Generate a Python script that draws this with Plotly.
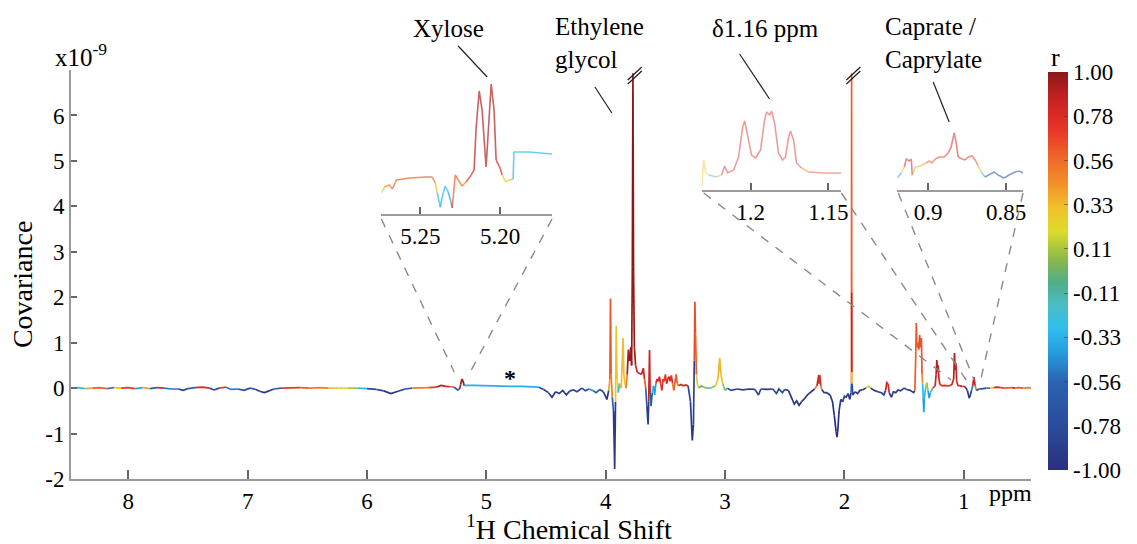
import plotly.graph_objects as go
from plotly.colors import sample_colorscale

FONT = "'Liberation Serif', 'Times New Roman', Times, 'DejaVu Serif', serif"

# ---------------- data: main STOCSY-type covariance trace (x10^-9) ----------------
main_ppm = [
    8.48, 8.42, 8.36, 8.30, 8.24, 8.18, 8.12, 8.06, 8.00, 7.94,
    7.88, 7.82, 7.76, 7.70, 7.64, 7.58, 7.54, 7.50, 7.44, 7.38,
    7.32, 7.28, 7.24, 7.18, 7.14, 7.08, 7.03, 6.98, 6.93, 6.90,
    6.86, 6.82, 6.78, 6.72, 6.64, 6.56, 6.48, 6.40, 6.32, 6.24,
    6.16, 6.08, 6.00, 5.92, 5.86, 5.80, 5.74, 5.68, 5.62, 5.55,
    5.48, 5.42, 5.38, 5.34, 5.30, 5.27, 5.24, 5.225, 5.215, 5.205,
    5.195, 5.185, 5.175, 5.10, 5.00, 4.90, 4.80, 4.70, 4.60, 4.56,
    4.52, 4.48, 4.45, 4.42, 4.39, 4.36, 4.33, 4.30, 4.27, 4.24,
    4.20, 4.17, 4.14, 4.11, 4.08, 4.05, 4.02, 3.99, 3.975, 3.965,
    3.960, 3.955, 3.945, 3.935, 3.925, 3.918, 3.912, 3.905, 3.895, 3.885,
    3.870, 3.855, 3.848, 3.838, 3.830, 3.820, 3.810, 3.800, 3.790, 3.783,
    3.777, 3.772, 3.767, 3.760, 3.750, 3.735, 3.720, 3.700, 3.685, 3.675,
    3.665, 3.655, 3.645, 3.640, 3.633, 3.628, 3.620, 3.610, 3.600, 3.590,
    3.580, 3.570, 3.560, 3.550, 3.540, 3.530, 3.520, 3.510, 3.500, 3.490,
    3.480, 3.470, 3.460, 3.450, 3.440, 3.430, 3.420, 3.410, 3.400, 3.390,
    3.370, 3.350, 3.330, 3.310, 3.290, 3.275, 3.265, 3.258, 3.253, 3.248,
    3.240, 3.230, 3.220, 3.200, 3.180, 3.150, 3.120, 3.080, 3.060, 3.045,
    3.035, 3.020, 3.000, 2.980, 2.950, 2.900, 2.850, 2.800, 2.750, 2.720,
    2.700, 2.650, 2.600, 2.570, 2.550, 2.520, 2.500, 2.470, 2.440, 2.420,
    2.400, 2.380, 2.360, 2.340, 2.310, 2.280, 2.250, 2.230, 2.215, 2.210,
    2.205, 2.198, 2.190, 2.170, 2.150, 2.120, 2.100, 2.085, 2.070, 2.062,
    2.055, 2.045, 2.030, 2.015, 2.000, 1.985, 1.970, 1.955, 1.945, 1.941,
    1.940, 1.939, 1.938, 1.937, 1.930, 1.910, 1.890, 1.870, 1.850, 1.820,
    1.800, 1.780, 1.750, 1.720, 1.690, 1.670, 1.655, 1.645, 1.635, 1.625,
    1.607, 1.590, 1.570, 1.550, 1.530, 1.500, 1.480, 1.450, 1.420, 1.410,
    1.402, 1.398, 1.393, 1.385, 1.378, 1.370, 1.362, 1.355, 1.350, 1.345,
    1.340, 1.335, 1.330, 1.320, 1.310, 1.300, 1.290, 1.280, 1.260, 1.240,
    1.232, 1.226, 1.220, 1.215, 1.208, 1.200, 1.180, 1.160, 1.140, 1.120,
    1.100, 1.085, 1.078, 1.072, 1.066, 1.060, 1.050, 1.030, 1.010, 0.990,
    0.970, 0.955, 0.945, 0.935, 0.925, 0.915, 0.905, 0.895, 0.870, 0.840,
    0.810, 0.780, 0.750, 0.720, 0.690, 0.660, 0.630, 0.600, 0.570, 0.540,
    0.500, 0.460, 0.420,
]
main_cov = [
    0.00, 0.01, -0.01, 0.00, 0.01, -0.01, 0.01, 0.00, 0.01, -0.01,
    0.01, -0.01, 0.01, 0.00, -0.02, -0.02, -0.05, -0.01, 0.01, 0.02,
    0.00, -0.04, 0.00, 0.02, -0.03, -0.02, -0.05, 0.00, -0.03, -0.07,
    -0.10, -0.06, -0.02, 0.00, 0.01, 0.01, 0.00, 0.01, 0.00, 0.00,
    0.00, 0.00, -0.01, -0.03, -0.06, -0.12, -0.07, -0.02, 0.00, 0.01,
    0.01, 0.02, 0.06, 0.04, 0.03, 0.02, -0.04, -0.02, 0.08, 0.20,
    0.15, 0.05, 0.06, 0.06, 0.05, 0.05, 0.04, 0.04, 0.03, 0.02,
    -0.03, -0.10, -0.20, -0.08, -0.12, -0.05, -0.15, -0.06, -0.04, -0.08,
    0.00, -0.06, -0.02, -0.05, -0.10, -0.03, -0.08, -0.25, -0.05, 0.20,
    1.97, 0.30, -0.20, -0.50, -1.78, -0.30, 1.37, 0.20, -0.10, 0.10,
    0.00, 1.10, 0.30, 0.10, 0.00, 0.30, 0.85, 0.60, 0.90, 0.50,
    2.67, 6.93, 2.60, 0.90, 0.50, 0.35, 0.33, 0.30, 0.44, 0.20,
    0.00, -0.40, -0.80, -0.30, 0.84, -0.10, -0.40, -0.10, 0.05, -0.15,
    0.10, 0.20, 0.15, 0.25, 0.10, -0.05, 0.20, 0.15, 0.30, 0.10,
    0.20, 0.25, 0.15, 0.28, 0.10, -0.05, 0.10, 0.30, 0.10, 0.05,
    0.08, 0.05, 0.07, 0.05, -0.30, -1.15, -0.80, 0.60, 1.90, 1.20,
    0.30, 0.05, 0.00, 0.05, 0.02, 0.00, 0.00, 0.05, 0.20, 0.66,
    0.30, 0.10, -0.05, 0.00, -0.05, -0.02, -0.04, -0.02, -0.03, -0.15,
    -0.02, -0.03, -0.02, -0.12, -0.02, -0.10, -0.03, -0.05, -0.25, -0.35,
    -0.28, -0.38, -0.30, -0.25, -0.15, -0.08, -0.02, 0.05, 0.29, 0.10,
    0.28, 0.05, -0.03, -0.10, -0.10, -0.15, -0.30, -0.60, -0.95, -1.08,
    -0.90, -0.50, -0.25, -0.30, -0.18, -0.20, -0.12, -0.25, -0.10, 0.10,
    6.93, 2.10, 0.35, 0.10, -0.15, -0.08, -0.12, -0.05, -0.04, 0.00,
    0.04, 0.00, -0.05, -0.08, -0.10, -0.15, -0.05, 0.12, 0.10, -0.10,
    -0.20, -0.08, -0.10, -0.04, -0.06, 0.00, -0.03, -0.05, -0.10, -0.05,
    0.80, 1.43, 0.90, 1.00, 0.85, 1.17, 0.90, 1.10, 0.30, 0.10,
    -0.20, -0.53, -0.20, 0.00, 0.12, -0.05, -0.22, -0.10, 0.00, 0.05,
    0.30, 0.62, 0.35, 0.50, 0.20, 0.08, 0.05, 0.06, 0.05, 0.05,
    0.08, 0.20, 0.77, 0.40, 0.55, 0.15, 0.06, 0.05, 0.04, 0.03,
    -0.05, -0.22, -0.15, -0.05, 0.05, 0.24, 0.05, -0.05, -0.02, -0.01,
    0.00, 0.00, 0.01, 0.02, 0.01, 0.00, 0.01, 0.01, 0.00, 0.01,
    0.00, 0.01, 0.00,
]
main_r = [
    -0.6, -0.3, 0.4, -0.7, 0.6, -0.5, 0.3, -0.8, 0.7, -0.4,
    0.4, -0.6, 0.8, 0.2, -0.5, -0.8, -0.9, -0.6, 0.5, 0.8,
    -0.3, -0.8, -0.4, 0.7, -0.5, -0.4, -0.8, -0.4, -0.6, -0.9,
    -0.95, -0.8, -0.6, 0.3, 0.7, 0.6, 0.4, 0.5, 0.3, 0.2,
    0.1, 0.3, -0.3, -0.8, -0.9, -0.95, -0.9, -0.6, 0.2, 0.5,
    0.4, 0.7, 0.9, 0.8, 0.6, 0.5, -0.6, -0.8, 0.9, 0.95,
    0.95, 0.4, -0.35, -0.35, -0.35, -0.35, -0.35, -0.35, -0.35, -0.5,
    -0.8, -0.9, -0.95, -0.9, -0.9, -0.85, -0.9, -0.85, -0.7, -0.85,
    -0.4, -0.8, 0.2, -0.4, -0.6, -0.5, -0.8, -0.95, -0.3, 0.4,
    0.62, 0.5, -0.4, -0.6, -0.92, -0.7, 0.3, 0.2, -0.3, 0.1,
    -0.4, 0.33, 0.3, 0.2, -0.3, 0.5, 0.95, 0.95, 0.98, 0.9,
    0.97, 1.0, 0.97, 0.95, 0.85, 0.8, 0.8, 0.8, 0.85, 0.6,
    0.2, -0.6, -0.9, -0.6, 0.85, -0.5, -0.6, -0.3, 0.1, -0.4,
    0.6, 0.8, 0.75, 0.8, 0.7, -0.3, 0.75, 0.8, 0.7, 0.6,
    0.8, 0.85, 0.8, 0.75, 0.5, -0.2, 0.6, 0.6, 0.5, 0.7,
    0.8, 0.8, 0.8, 0.75, -0.8, -0.92, -0.85, 0.85, 0.65, 0.6,
    0.3, 0.2, -0.1, 0.0, 0.05, -0.2, 0.1, 0.1, 0.3, 0.35,
    0.3, 0.1, -0.3, 0.1, -0.85, -0.9, -0.9, -0.85, -0.9, -0.8,
    -0.9, -0.9, -0.9, -0.8, -0.9, -0.8, -0.9, -0.9, -0.95, -0.95,
    -0.9, -0.95, -0.9, -0.9, -0.9, -0.9, -0.6, 0.5, 0.85, 0.7,
    0.75, 0.5, -0.8, -0.9, -0.9, -0.9, -0.95, -0.95, -0.98, -1.0,
    -0.98, -0.95, -0.9, -0.9, -0.9, -0.9, -0.9, -0.9, -0.5, 0.0,
    0.6, 0.85, 0.3, 0.0, -0.85, -0.9, -0.9, -0.9, -0.85, 0.1,
    0.3, -0.4, -0.9, -0.9, -0.9, -0.9, -0.8, 0.85, 0.8, -0.85,
    -0.9, -0.9, -0.9, -0.85, -0.9, -0.4, -0.85, -0.9, -0.9, -0.6,
    0.6, 0.62, 0.62, 0.6, 0.6, 0.65, 0.6, 0.62, 0.45, 0.3,
    -0.3, -0.4, -0.3, 0.1, 0.1, -0.3, -0.4, -0.2, 0.1, 0.7,
    0.85, 0.9, 0.9, 0.85, 0.8, 0.75, 0.8, 0.75, 0.8, 0.8,
    0.85, 0.85, 0.9, 0.85, 0.85, 0.8, 0.8, 0.8, 0.75, 0.5,
    -0.85, -0.95, -0.9, -0.5, 0.4, 0.85, 0.5, -0.8, -0.85, -0.8,
    -0.5, -0.3, 0.3, 0.8, 0.7, 0.2, 0.6, 0.8, 0.3, 0.6,
    0.2, 0.5, 0.3,
]

# ---------------- data: insets (relative intensity) ----------------
xyl_ppm = [5.2744, 5.2725, 5.2694, 5.2675, 5.2650, 5.2569, 5.2463, 5.2425, 5.2406, 5.2394,
           5.2375, 5.2363, 5.2344, 5.2325, 5.2306, 5.2300, 5.2281, 5.2263, 5.2238, 5.2213,
           5.2181, 5.2163, 5.2150, 5.2131, 5.2113, 5.2088, 5.2069, 5.2056, 5.2038, 5.2025,
           5.2000, 5.1988, 5.1963, 5.1944, 5.1919, 5.1913, 5.1819, 5.1675]
xyl_int = [0.151, 0.194, 0.209, 0.180, 0.245, 0.259, 0.266, 0.266, 0.223, 0.151,
           0.050, 0.122, 0.201, 0.158, 0.079, 0.043, 0.281, 0.245, 0.201, 0.230,
           0.281, 0.317, 0.626, 0.885, 0.748, 0.338, 0.748, 0.935, 0.748, 0.388,
           0.331, 0.281, 0.230, 0.245, 0.252, 0.446, 0.446, 0.432]
xyl_r = [-0.55, 0.3, 0.5, -0.4, 0.55, 0.6, 0.6, 0.55, 0.3, -0.3,
         -0.45, -0.35, -0.3, -0.4, -0.5, -0.6, 0.6, 0.55, 0.35, 0.5,
         0.75, 0.85, 0.9, 0.9, 0.9, 0.9, 0.9, 0.9, 0.9, 0.85,
         0.8, 0.3, 0.3, 0.25, 0.4, -0.3, -0.3, -0.35]

d116_ppm = [1.2314, 1.2301, 1.2288, 1.2269, 1.2218, 1.2186, 1.2167, 1.2147, 1.2109, 1.2077,
            1.2051, 1.2038, 1.2019, 1.1994, 1.1968, 1.1936, 1.1910, 1.1897, 1.1878, 1.1865,
            1.1846, 1.1821, 1.1795, 1.1776, 1.1756, 1.1744, 1.1724, 1.1705, 1.1673, 1.1628,
            1.1532, 1.1417]
d116_int = [0.026, 0.260, 0.157, 0.130, 0.113, 0.130, 0.209, 0.148, 0.174, 0.287,
            0.548, 0.600, 0.461, 0.304, 0.278, 0.348, 0.609, 0.678, 0.652, 0.687,
            0.583, 0.322, 0.261, 0.287, 0.461, 0.513, 0.435, 0.235, 0.191, 0.157,
            0.148, 0.148]
d116_r = [-0.3, 0.3, 0.2, -0.3, -0.5, 0.4, 0.8, 0.6, 0.8, 0.8,
          0.8, 0.8, 0.8, 0.8, 0.8, 0.8, 0.8, 0.8, 0.8, 0.8,
          0.8, 0.8, 0.8, 0.8, 0.8, 0.8, 0.8, 0.8, 0.45, 0.7,
          0.7, 0.6]

cap_ppm = [0.9199, 0.9173, 0.9154, 0.9141, 0.9122, 0.9109, 0.9103, 0.9083, 0.9051, 0.9013,
           0.8994, 0.8974, 0.8955, 0.8929, 0.8897, 0.8872, 0.8853, 0.8833, 0.8821, 0.8808,
           0.8782, 0.8763, 0.8744, 0.8718, 0.8699, 0.8679, 0.8660, 0.8635, 0.8603, 0.8577,
           0.8551, 0.8513, 0.8481, 0.8442, 0.8417, 0.8391]
cap_int = [0.104, 0.148, 0.200, 0.270, 0.252, 0.270, 0.130, 0.200, 0.209, 0.235,
           0.252, 0.235, 0.270, 0.287, 0.287, 0.322, 0.374, 0.496, 0.417, 0.287,
           0.270, 0.261, 0.287, 0.296, 0.261, 0.209, 0.157, 0.113, 0.139, 0.157,
           0.130, 0.104, 0.130, 0.157, 0.165, 0.148]
cap_r = [-0.6, -0.4, 0.3, 0.8, 0.8, 0.8, -0.5, 0.1, 0.35, 0.4,
         0.6, 0.5, 0.6, 0.7, 0.7, 0.75, 0.8, 0.8, 0.8, 0.75,
         0.7, 0.7, 0.75, 0.7, 0.6, 0.3, -0.3, -0.6, -0.7, -0.7,
         -0.7, -0.75, -0.7, -0.7, -0.7, -0.7]

x_ticks = [1, 2, 3, 4, 5, 6, 7, 8]
x_tick_text = ["1", "2", "3", "4", "5", "6", "7", "8"]
y_ticks = [-2, -1, 0, 1, 2, 3, 4, 5, 6]
y_tick_text = ["-2", "-1", "0", "1", "2", "3", "4", "5", "6"]
cbar_vals = [-1, -7 / 9, -5 / 9, -3 / 9, -1 / 9, 1 / 9, 3 / 9, 5 / 9, 7 / 9, 1]
cbar_text = ["-1.00", "-0.78", "-0.56", "-0.33", "-0.11", "0.11", "0.33", "0.56", "0.78", "1.00"]

assert len(main_ppm) == len(main_cov) == len(main_r)
assert len(xyl_ppm) == len(xyl_int) == len(xyl_r)
assert len(d116_ppm) == len(d116_int) == len(d116_r)
assert len(cap_ppm) == len(cap_int) == len(cap_r)

# jet-like colour scale of the reference colour bar
CS = [
    [0.00, "#2b2f7e"], [0.11, "#2a4c9c"], [0.22, "#2a63b0"], [0.30, "#26a0e0"],
    [0.36, "#30c0ec"], [0.42, "#4cbcc0"], [0.47, "#4fae88"], [0.53, "#8cb84a"],
    [0.60, "#dcdc2a"], [0.66, "#f2c02a"], [0.72, "#f29028"], [0.78, "#ef6a2a"],
    [0.86, "#e63228"], [0.93, "#c82222"], [1.00, "#8a1818"],
]

# plot-area pixel geometry (for placing decorations in paper coordinates)
L, R, T, B = 71, 1033, 70, 479


def P(px, py):
    return (px - L) / (R - L), (B - py) / (B - T)


fig = go.Figure()


def add_colored(xs, ys, rs, xa, ya, width, opacity):
    n = len(xs)
    seg_r = [rs[i] if abs(ys[i]) >= abs(ys[i + 1]) else rs[i + 1] for i in range(n - 1)]
    cols = sample_colorscale(CS, [(v + 1) / 2 for v in seg_r])
    s = 0
    for i in range(1, n):
        if i == n - 1 or cols[i] != cols[s]:
            fig.add_trace(go.Scatter(
                x=xs[s:i + 1], y=ys[s:i + 1], mode="lines",
                line=dict(color=cols[s], width=width), opacity=opacity,
                xaxis=xa, yaxis=ya, hoverinfo="skip", showlegend=False))
            s = i


add_colored(main_ppm, main_cov, main_r, "x", "y", 1.7, 1.0)
add_colored(xyl_ppm, xyl_int, xyl_r, "x2", "y2", 1.6, 0.7)
add_colored(d116_ppm, d116_int, d116_r, "x3", "y3", 1.6, 0.45)
add_colored(cap_ppm, cap_int, cap_r, "x4", "y4", 1.6, 0.55)

# colour bar carrier
fig.add_trace(go.Scatter(
    x=[main_ppm[0]], y=[main_cov[0]], mode="markers", xaxis="x", yaxis="y",
    marker=dict(size=0.1, color=[0], colorscale=CS, cmin=-1, cmax=1, showscale=True,
                colorbar=dict(x=(1050 - L) / (R - L), xanchor="left", xref="paper",
                              y=(B - 271) / (B - T), yanchor="middle",
                              len=398, lenmode="pixels", thickness=20, thicknessmode="pixels",
                              xpad=0, ypad=0, outlinewidth=0,
                              tickmode="array", tickvals=cbar_vals, ticktext=cbar_text,
                              ticks="inside", ticklen=4, tickcolor="rgba(60,60,60,0.6)",
                              tickfont=dict(family=FONT, size=23, color="black"))),
    hoverinfo="skip", showlegend=False))

axis_common = dict(showgrid=False, zeroline=False, showline=True, linecolor="#9a9a9a",
                   linewidth=2, ticks="inside", tickcolor="#666", tickwidth=1.5,
                   tickfont=dict(family=FONT, size=23, color="black"))


def inset_axes(x0, x1, y0, y1, xr, tv, tt):
    fx0, fy0 = P(x0, y0)
    fx1, fy1 = P(x1, y1)
    xa = dict(axis_common, domain=[fx0, fx1], range=xr, tickmode="array", tickvals=tv,
              ticktext=tt, ticklen=7)
    ya = dict(domain=[fy0, fy1], range=[0, 1], visible=False, fixedrange=True)
    return xa, ya


xa2, ya2 = inset_axes(382, 553, 214, 75, [5.2744, 5.1675], [5.25, 5.20], ["5.25", "5.20"])
xa3, ya3 = inset_axes(703, 843, 190, 75, [1.2314, 1.1417], [1.2, 1.15], ["1.2", "1.15"])
xa4, ya4 = inset_axes(899, 1025, 190, 75, [0.9199, 0.8391], [0.9, 0.85], ["0.9", "0.85"])
xa2["anchor"], ya2["anchor"] = "y2", "x2"
xa3["anchor"], ya3["anchor"] = "y3", "x3"
xa4["anchor"], ya4["anchor"] = "y4", "x4"

shapes = []


def seg(p0, p1, color, width, dash="solid"):
    a = P(*p0)
    b = P(*p1)
    shapes.append(dict(type="line", xref="paper", yref="paper", x0=a[0], y0=a[1],
                       x1=b[0], y1=b[1], line=dict(color=color, width=width, dash=dash),
                       layer="above"))


# dashed zoom guides
for p0, p1 in [((382, 219), (455, 372)), ((553, 219), (470, 374)),
               ((705, 193), (953, 380)), ((843, 193), (970, 383)),
               ((900, 193), (976, 380)), ((1025, 193), (983, 378))]:
    seg(p0, p1, "#8a8a8a", 1.4, "dash")

# leader lines
for p0, p1 in [((459, 46), (488, 77)), ((596, 87), (613, 113)),
               ((741, 54), (771, 99)), ((935, 82), (951, 122))]:
    seg(p0, p1, "#222", 1.2)

# axis-break marks on the clipped peaks
for cx in (636, 855):
    seg((cx - 7, 80), (cx + 7, 67), "#222", 1.3)
    seg((cx - 7, 84), (cx + 7, 71), "#222", 1.3)

annotations = []


def text(px, py, s, size=25, xanchor="center", align="center", angle=0):
    fx, fy = P(px, py)
    annotations.append(dict(x=fx, y=fy, xref="paper", yref="paper", text=s, showarrow=False,
                            xanchor=xanchor, yanchor="middle", align=align, textangle=angle,
                            font=dict(family=FONT, size=size, color="black")))


text(449, 28, "Xylose")
text(554, 43, "Ethylene<br>glycol", xanchor="left", align="left")
text(767, 28, "δ1.16 ppm")
text(885, 43, "Caprate /<br>Caprylate", xanchor="left", align="left")
text(511, 378, "<b>*</b>", size=24)
text(53, 55, "x10<sup>-9</sup>", size=25, xanchor="left")
text(1058, 57, "r", size=26)
text(1012, 493, "ppm", size=24)
text(570, 527, "<sup>1</sup>H Chemical Shift", size=28)
text(22, 284, "Covariance", size=28, angle=-90)

fig.update_layout(
    width=1137, height=544, autosize=False,
    margin=dict(l=L, r=1137 - R, t=T, b=544 - B, pad=0),
    paper_bgcolor="white", plot_bgcolor="rgba(0,0,0,0)",
    font=dict(family=FONT, color="black"),
    showlegend=False, hovermode=False,
    xaxis=dict(axis_common, domain=[0, 1], range=[8.48, 0.437], tickmode="array",
               tickvals=x_ticks, ticktext=x_tick_text, ticklen=9, anchor="y"),
    yaxis=dict(axis_common, domain=[0, 1], range=[-2, 7.0], tickmode="array",
               tickvals=y_ticks, ticktext=y_tick_text, ticklen=6, anchor="x"),
    xaxis2=xa2, yaxis2=ya2, xaxis3=xa3, yaxis3=ya3, xaxis4=xa4, yaxis4=ya4,
    shapes=shapes, annotations=annotations,
)

fig.write_html("out.html")
